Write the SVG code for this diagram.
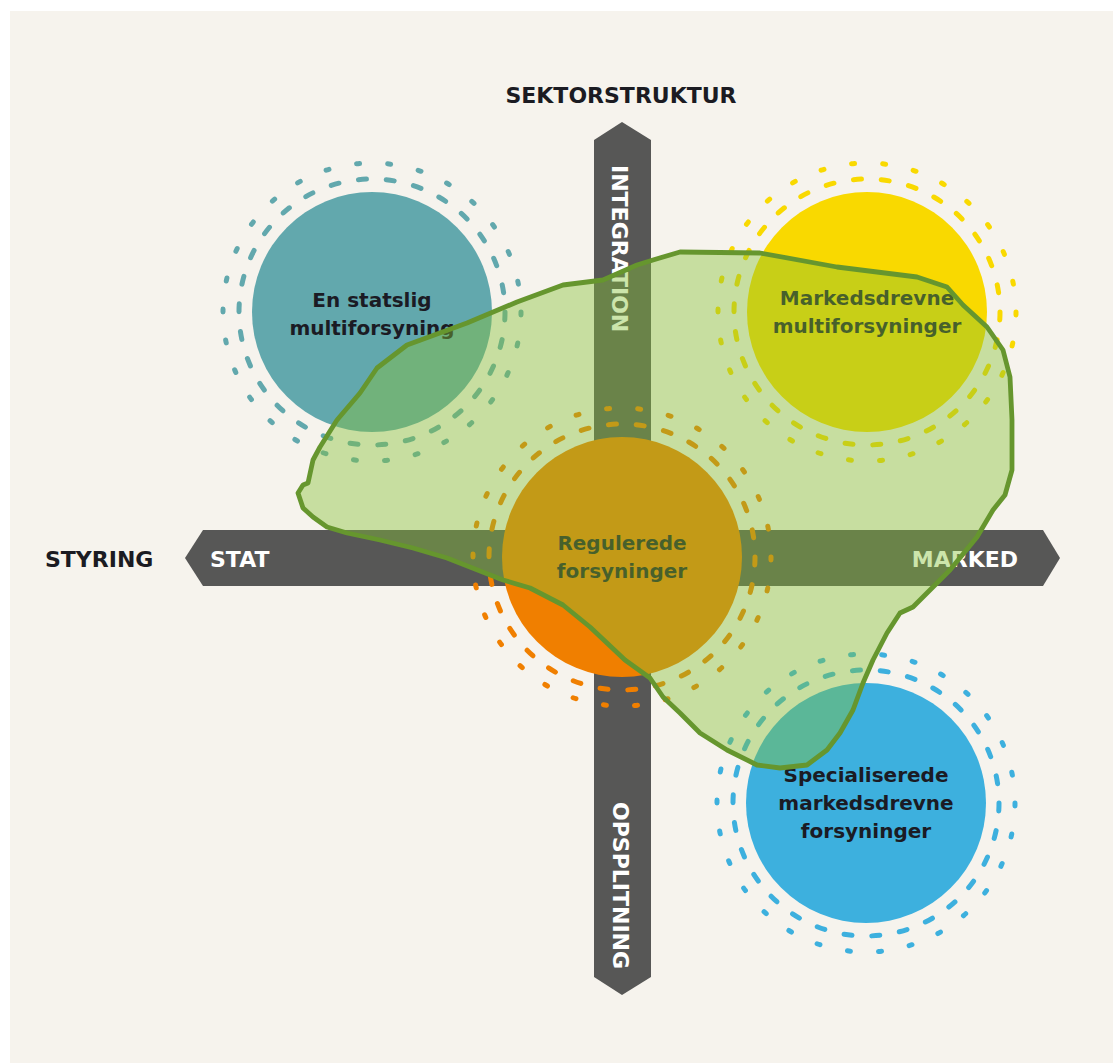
<svg xmlns="http://www.w3.org/2000/svg" width="1113" height="1063" viewBox="0 0 1113 1063">
<style>
.hdr{font-family:"DejaVu Sans",sans-serif;font-weight:bold;font-size:22px;fill:#1b1b22}
.bar{fill:#575756}
.bartxt{font-family:"DejaVu Sans",sans-serif;font-weight:bold;font-size:22px;fill:#ffffff}
.lbl{font-family:"DejaVu Sans",sans-serif;font-weight:bold;font-size:20px;fill:#1b1b24;text-anchor:middle}
.rin{fill:none;stroke-width:5;stroke-linecap:round;stroke-dasharray:8 19.86}
.rout{fill:none;stroke-width:5;stroke-linecap:round;stroke-dasharray:3 28.2}
</style>
<rect x="0" y="0" width="1113" height="1063" fill="#ffffff"/>
<rect x="10" y="11" width="1103" height="1052" fill="#f6f3ed"/>
<g id="axes">
<polygon class="bar" points="594,140 622,122 651,140 651,977 622,995 594,977"/>
<polygon class="bar" points="203,530 1043,530 1060,558 1043,586 203,586 185,558"/>
<text class="hdr" x="621" y="103" text-anchor="middle">SEKTORSTRUKTUR</text>
<text class="hdr" x="45" y="567">STYRING</text>
<text class="bartxt" x="210" y="567">STAT</text>
<text class="bartxt" x="1018" y="567" text-anchor="end">MARKED</text>
<text class="bartxt" transform="translate(619,165) rotate(90)" dominant-baseline="central" x="0" y="0">INTEGRATION</text>
<text class="bartxt" transform="translate(620,802) rotate(90)" dominant-baseline="central" x="0" y="0">OPSPLITNING</text>
</g>
<g id="node-statslig">
<circle cx="372" cy="312" r="133" class="rin" stroke="#62a8ad"/>
<circle cx="372" cy="312" r="149" class="rout" stroke="#62a8ad"/>
<circle cx="372" cy="312" r="120" fill="#62a8ad"/>
<text class="lbl" x="372" y="307">En statslig</text>
<text class="lbl" x="372" y="335">multiforsyning</text>
</g>
<g id="node-markedsdrevne">
<circle cx="867" cy="312" r="133" class="rin" stroke="#f9d900"/>
<circle cx="867" cy="312" r="149" class="rout" stroke="#f9d900"/>
<circle cx="867" cy="312" r="120" fill="#f9d900"/>
<text class="lbl" x="867" y="305">Markedsdrevne</text>
<text class="lbl" x="867" y="333">multiforsyninger</text>
</g>
<g id="node-regulerede">
<circle cx="622" cy="557" r="133" class="rin" stroke="#f07f00"/>
<circle cx="622" cy="557" r="149" class="rout" stroke="#f07f00"/>
<circle cx="622" cy="557" r="120" fill="#f07f00"/>
<text class="lbl" x="622" y="550">Regulerede</text>
<text class="lbl" x="622" y="578">forsyninger</text>
</g>
<g id="node-specialiserede">
<circle cx="866" cy="803" r="133" class="rin" stroke="#3db0de"/>
<circle cx="866" cy="803" r="149" class="rout" stroke="#3db0de"/>
<circle cx="866" cy="803" r="120" fill="#3db0de"/>
<text class="lbl" x="866" y="782">Specialiserede</text>
<text class="lbl" x="866" y="810">markedsdrevne</text>
<text class="lbl" x="866" y="838">forsyninger</text>
</g>
<g id="connectors">
<path d="M303,485 L308,483 L313,460 L320,447 L337,420 L360,393 L377,368 L407,345 L467,323 L517,302 L563,285 L603,280 L637,265 L653,260 L680,252 L760,253 L837,267 L917,277 L947,287 L963,305 L987,327 L1003,350 L1010,377 L1012,420 L1012,470 L1005,495 L993,510 L977,537 L950,570 L913,607 L900,613 L887,633 L873,660 L863,683 L853,710 L840,733 L827,750 L807,765 L780,768 L757,765 L727,750 L700,733 L680,713 L663,697 L650,678 L625,660 L590,627 L563,605 L530,588 L503,580 L447,558 L413,548 L380,540 L347,533 L327,527 L313,517 L303,508 L298,493 Z" fill="#86c136" fill-opacity="0.42" stroke="#66962e" stroke-width="4.8" stroke-linejoin="round"/>
</g>
</svg>
